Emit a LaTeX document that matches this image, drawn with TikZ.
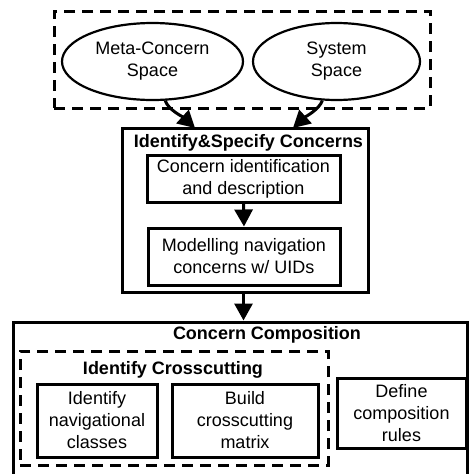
\documentclass[tikz,border=0pt]{standalone}
\usepackage{fontspec}
\setmainfont{Liberation Sans}
\usetikzlibrary{shapes.geometric,arrows.meta}
\begin{document}
\begin{tikzpicture}[x=1pt,y=-1pt,
  every node/.style={font=\fontsize{18}{22}\selectfont, align=center, inner sep=0pt},
  stepbox/.style={draw, line width=3pt, rectangle},
  groupbox/.style={draw, line width=3pt, dash pattern=on 11pt off 7pt, rectangle},
  space/.style={draw, line width=2.2pt, ellipse},
  heading/.style={font=\fontsize{18}{22}\selectfont\bfseries},
  flow/.style={line width=3pt, -{Triangle[width=18pt,length=17pt]}}]
\useasboundingbox (0,0) rectangle (470,474);
\clip (0,0) rectangle (470,474);

% concern spaces
\node[groupbox, minimum width=376, minimum height=97] (spaces) at (242,59.5) {};
\node[space, minimum width=181, minimum height=77] (meta) at (152.5,61.5) {Meta-Concern\\Space};
\node[space, minimum width=167, minimum height=77] (sys) at (336.5,61.5) {System\\Space};

% identify & specify concerns
\node[stepbox, minimum width=246, minimum height=164] (isc) at (245,210) {};
\node[heading] (isct) at (248.5,143) {Identify\&Specify Concerns};
\node[stepbox, minimum width=193, minimum height=47] (cid) at (243.5,178.5) {Concern identification\\and description};
\node[stepbox, minimum width=192, minimum height=57] (mnav) at (244,256.5) {Modelling navigation\\concerns w/ UIDs};

% concern composition
\node[stepbox, minimum width=454, minimum height=180] (cc) at (240,412) {};
\node[heading] (cct) at (267,335) {Concern Composition};
\node[groupbox, minimum width=308, minimum height=114] (ic) at (174,408) {};
\node[heading] (ict) at (173,370) {Identify Crosscutting};
\node[stepbox, minimum width=120, minimum height=73] (inc) at (97,420.5) {Identify\\navigational\\classes};
\node[stepbox, minimum width=146, minimum height=73] (bcm) at (245,420.5) {Build\\crosscutting\\matrix};
\node[stepbox, minimum width=129, minimum height=70] (dcr) at (401.5,413) {Define\\composition\\rules};

% connectors
\coordinate (in1) at (195,128);
\coordinate (in2) at (293,128);
\draw[flow] (meta.-72) .. controls +(3,9) and +(-12,-11) .. (in1);
\draw[flow] (sys.-110) .. controls +(-3,9) and +(12,-11) .. (in2);
\draw[flow] (cid.south) -- (mnav.north);
\draw[flow] (isc.south -| cid.south) -- (cc.north -| cid.south);
\end{tikzpicture}
\end{document}
